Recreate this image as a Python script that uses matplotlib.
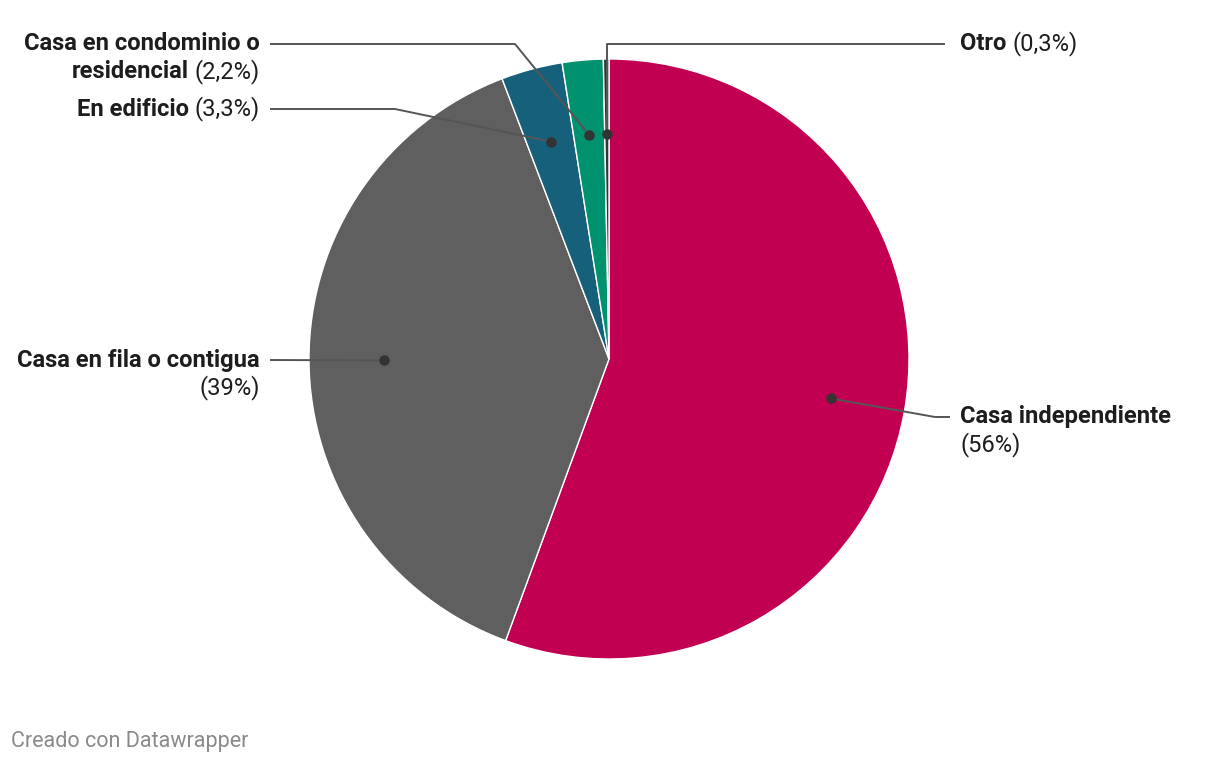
import numpy as np
import matplotlib.pyplot as plt

plt.rcParams['font.family'] = ['Roboto', 'DejaVu Sans']

# datos (lectura del gráfico)
categorias = ["Casa independiente", "Casa en fila o contigua", "En edificio",
              "Casa en condominio o residencial", "Otro"]
valores = [55.6, 38.6, 3.3, 2.2, 0.3]
etiquetas_pct = ["(56%)", "(39%)", "(3,3%)", "(2,2%)", "(0,3%)"]
colores = ["#c20052", "#5f5f5f", "#17607b", "#00916f", "#333333"]

W, H = 1220, 766
CX, CY, R = 609, H - 359, 300

fig = plt.figure(figsize=(W / 100, H / 100), dpi=100)
ax = fig.add_axes([0, 0, 1, 1])
wedges, _ = ax.pie(valores, colors=colores, startangle=90, counterclock=False,
                   center=(CX, CY), radius=R,
                   wedgeprops=dict(edgecolor="white", linewidth=1))
ax.set_xlim(0, W)
ax.set_ylim(0, H)
ax.set_aspect("equal")
ax.axis("off")

renderer = fig.canvas.get_renderer()
FS = 17.1
TXT = "#1d1d1d"


def ancho(txt, weight):
    t = ax.text(0, 0, txt, fontsize=FS, fontweight=weight)
    bb = t.get_window_extent(renderer)
    t.remove()
    return bb.width


def y(py):
    return H - py


# puntos de anclaje: 75% del radio en el ángulo medio de cada porción
puntos = []
for w in wedges:
    ang = np.deg2rad((w.theta1 + w.theta2) / 2)
    puntos.append((CX + 0.75 * R * np.cos(ang), CY + 0.75 * R * np.sin(ang)))

# recorrido de las líneas guía (codo y final), en píxeles de imagen
guias = [
    [(935, 417), (950, 417)],
    [(270, 360)],
    [(395, 109), (270, 109)],
    [(515, 44), (270, 44)],
    [None, (945, 44)],
]
for (px, py), g in zip(puntos, guias):
    xs, ys = [px], [py]
    for p in g:
        if p is None:
            continue
        xs.append(p[0])
        ys.append(y(p[1]))
    if g[0] is None:
        xs.insert(1, px)
        ys.insert(1, y(g[1][1]))
    ax.plot(xs, ys, color="#555555", lw=1.4, solid_capstyle="butt", zorder=3)
    ax.plot(px, py, "o", color="#333333", ms=6.5, zorder=4)


def izq(x0, py, negrita, normal):
    ax.text(x0, y(py), negrita, fontsize=FS, fontweight="bold", color=TXT,
            ha="left", va="center")
    if normal:
        ax.text(x0 + ancho(negrita, "bold") + ancho(" ", "normal"),
                y(py), normal, fontsize=FS, color=TXT, ha="left", va="center")


def der(x1, py, negrita, normal):
    if normal:
        ax.text(x1, y(py), normal, fontsize=FS, color=TXT, ha="right", va="center")
        x1 = x1 - ancho(normal, "normal") - ancho(" ", "normal")
    if negrita:
        ax.text(x1, y(py), negrita, fontsize=FS, fontweight="bold", color=TXT,
                ha="right", va="center")


# Casa independiente
izq(960, 417, categorias[0], None)
ax.text(960, y(445), etiquetas_pct[0], fontsize=FS, color=TXT, ha="left", va="center")
# Casa en fila o contigua
der(260, 360, categorias[1], None)
der(260, 388, None, etiquetas_pct[1])
# En edificio
der(260, 109, categorias[2], etiquetas_pct[2])
# Casa en condominio o residencial
der(260, 44, "Casa en condominio o", None)
der(260, 72, "residencial", etiquetas_pct[3])
# Otro
izq(960, 44, categorias[4], etiquetas_pct[4])

ax.text(11, y(742), "Creado con Datawrapper", fontsize=15.5, color="#8a8a8a",
        ha="left", va="center")

fig.savefig("out.png", dpi=100)
